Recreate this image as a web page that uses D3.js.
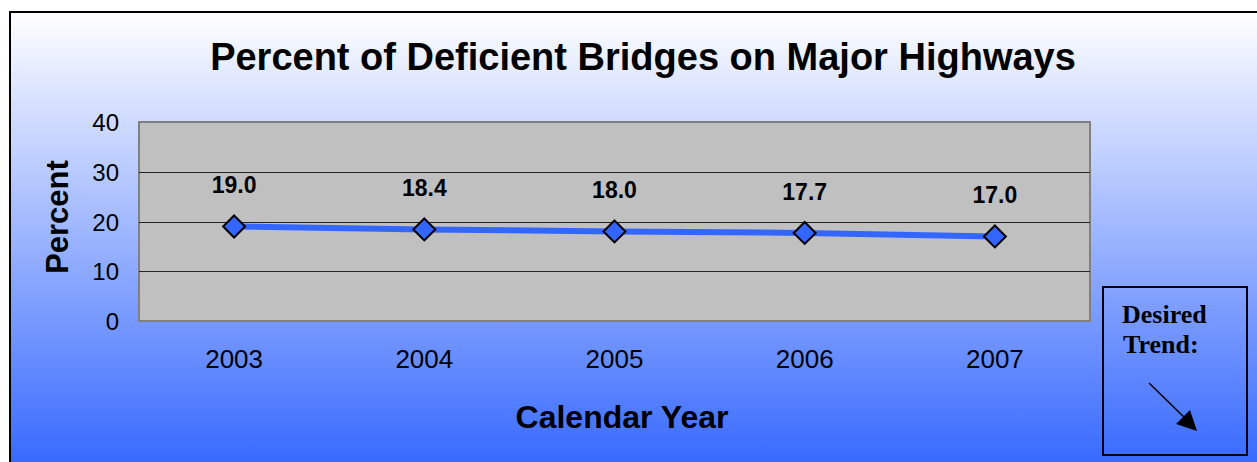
<!DOCTYPE html>
<html>
<head>
<meta charset="utf-8">
<script src="https://cdn.jsdelivr.net/npm/d3@7"></script>
<style>
  body { margin: 0; background: #fff; }
  svg { display: block; }
</style>
</head>
<body>
<div id="chart"></div>
<script>
// data
const years = ["2003", "2004", "2005", "2006", "2007"];
const percents = [19.0, 18.4, 18.0, 17.7, 17.0];
const yTicks = [0, 10, 20, 30, 40];

const svgWidth = 1257,
    svgHeight = 462,
    plot = { left: 139, right: 1090, top: 122, bottom: 321 };

const sans = "Arial, 'Liberation Sans', sans-serif";
const serif = "'Liberation Serif', 'Times New Roman', serif";

const svg = d3.select("#chart")
    .append("svg")
    .attr("width", svgWidth)
    .attr("height", svgHeight);

// background gradient
const grad = svg.append("defs")
    .append("linearGradient")
    .attr("id", "bg")
    .attr("x1", 0).attr("y1", 0).attr("x2", 0).attr("y2", 1);
grad.append("stop").attr("offset", "0%").attr("stop-color", "#ffffff");
grad.append("stop").attr("offset", "100%").attr("stop-color", "#3366ff");

svg.append("rect")
    .attr("x", 10).attr("y", 12)
    .attr("width", svgWidth + 10).attr("height", svgHeight)
    .attr("fill", "url(#bg)")
    .attr("stroke", "#000")
    .attr("stroke-width", 2);

// title
svg.append("text")
    .attr("x", 643).attr("y", 70)
    .attr("text-anchor", "middle")
    .style("font", `bold 38px ${sans}`)
    .text("Percent of Deficient Bridges on Major Highways");

// scales
const x = d3.scalePoint()
    .domain(years)
    .range([plot.left, plot.right])
    .padding(0.5);

const y = d3.scaleLinear()
    .domain([0, 40])
    .range([plot.bottom, plot.top]);

// plot area
svg.append("rect")
    .attr("x", plot.left).attr("y", plot.top)
    .attr("width", plot.right - plot.left)
    .attr("height", plot.bottom - plot.top)
    .attr("fill", "#c0c0c0")
    .attr("stroke", "#808080")
    .attr("stroke-width", 2);

// gridlines
svg.append("g")
    .selectAll("line")
    .data(yTicks.filter(d => d > 0 && d < 40))
    .join("line")
    .attr("x1", plot.left).attr("x2", plot.right)
    .attr("y1", d => Math.round(y(d)) + 0.5)
    .attr("y2", d => Math.round(y(d)) + 0.5)
    .attr("stroke", "#222")
    .attr("stroke-width", 1);

// y tick labels
svg.append("g")
    .selectAll("text")
    .data(yTicks)
    .join("text")
    .attr("x", 119)
    .attr("y", d => y(d) + 9)
    .attr("text-anchor", "end")
    .style("font", `24px ${sans}`)
    .text(d => d);

// x tick labels
svg.append("g")
    .selectAll("text")
    .data(years)
    .join("text")
    .attr("x", d => x(d))
    .attr("y", 368)
    .attr("text-anchor", "middle")
    .style("font", `26px ${sans}`)
    .text(d => d);

// axis titles
svg.append("text")
    .attr("x", 622).attr("y", 428)
    .attr("text-anchor", "middle")
    .style("font", `bold 32px ${sans}`)
    .text("Calendar Year");

svg.append("text")
    .attr("transform", "translate(68,217) rotate(-90)")
    .attr("text-anchor", "middle")
    .style("font", `bold 31px ${sans}`)
    .text("Percent");

// line
const points = years.map((yr, i) => ({ year: yr, value: percents[i] }));

svg.append("path")
    .datum(points)
    .attr("d", d3.line().x(d => x(d.year)).y(d => y(d.value)))
    .attr("fill", "none")
    .attr("stroke", "#3366ff")
    .attr("stroke-width", 6);

// diamond markers
svg.append("g")
    .selectAll("path")
    .data(points)
    .join("path")
    .attr("transform", d => `translate(${x(d.year)},${y(d.value)})`)
    .attr("d", "M0,-11L11,0L0,11L-11,0Z")
    .attr("fill", "#3366ff")
    .attr("stroke", "#000")
    .attr("stroke-width", 2);

// value labels
svg.append("g")
    .selectAll("text")
    .data(points)
    .join("text")
    .attr("x", d => x(d.year))
    .attr("y", d => y(d.value) - 33)
    .attr("text-anchor", "middle")
    .style("font", `bold 23px ${sans}`)
    .text(d => d.value.toFixed(1));

// desired trend box
svg.append("rect")
    .attr("x", 1103).attr("y", 287)
    .attr("width", 144).attr("height", 168)
    .attr("fill", "none")
    .attr("stroke", "#000")
    .attr("stroke-width", 2);

svg.append("text")
    .attr("x", 1122).attr("y", 323)
    .style("font", `bold 26px ${serif}`)
    .text("Desired");

svg.append("text")
    .attr("x", 1123).attr("y", 353)
    .style("font", `bold 26px ${serif}`)
    .text("Trend:");

svg.append("line")
    .attr("x1", 1149).attr("y1", 383)
    .attr("x2", 1186).attr("y2", 419)
    .attr("stroke", "#000")
    .attr("stroke-width", 1.5);

svg.append("path")
    .attr("d", "M1197,431L1176,424L1190,410Z")
    .attr("fill", "#000");
</script>
</body>
</html>
